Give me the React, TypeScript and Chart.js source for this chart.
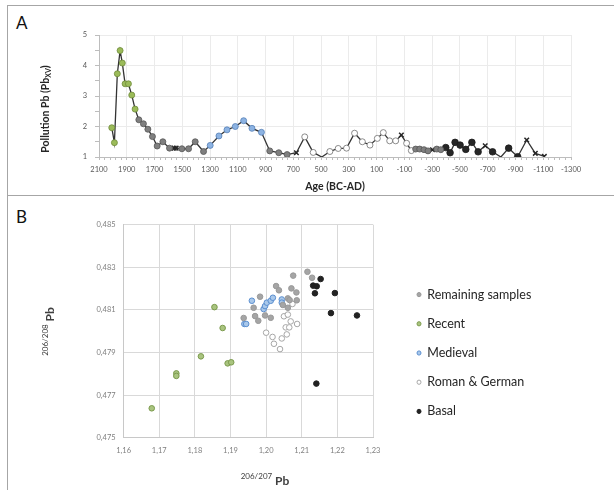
import React, { useEffect, useRef } from 'react';
import { Chart, registerables } from 'chart.js';

Chart.register(...registerables);

// ---------- Panel A: pollution Pb vs age ----------
const ageYears = [2008, 1989, 1968, 1948, 1932, 1912, 1888, 1864, 1840, 1813, 1780, 1748, 1715, 1681, 1640, 1592, 1558, 1544, 1503, 1455, 1407, 1347, 1299, 1236, 1178, 1118, 1058, 998, 930, 870, 805, 745, 678, 618, 557, 495, 437, 377, 317, 259, 203, 148, 95, 52, 6, -37, -78, -116, -150, -181, -210, -241, -270, -302, -333, -362, -398, -429, -465, -501, -542, -586, -631, -682, -735, -795, -851, -916, -981, -1043, -1108];
const pollutionPb = [1.96, 1.47, 3.73, 4.49, 4.08, 3.40, 3.40, 3.03, 2.57, 2.22, 2.09, 1.91, 1.67, 1.36, 1.50, 1.29, 1.29, 1.29, 1.27, 1.27, 1.50, 1.18, 1.38, 1.69, 1.89, 2.00, 2.19, 1.94, 1.81, 1.20, 1.14, 1.08, 1.14, 1.66, 1.15, 1.00, 1.18, 1.28, 1.29, 1.78, 1.50, 1.39, 1.61, 1.80, 1.53, 1.53, 1.72, 1.45, 1.21, 1.26, 1.26, 1.24, 1.20, 1.24, 1.26, 1.24, 1.31, 1.14, 1.48, 1.39, 1.25, 1.48, 1.17, 1.37, 1.17, 1.00, 1.29, 1.01, 1.56, 1.12, 1.02];
// G recent, R remaining, M medieval, W roman & german, B basal, X cross, N no marker
const sampleGroup = [
  'G', 'G', 'G', 'G', 'G', 'G', 'G', 'G', 'G',
  'R', 'R', 'R', 'R', 'R', 'R', 'R',
  'X', 'X',
  'R', 'R', 'R', 'R',
  'M', 'M', 'M', 'M', 'M', 'M', 'M',
  'R', 'R', 'R',
  'X',
  'W', 'W', 'N',
  'W', 'W', 'W', 'W', 'W', 'W', 'W', 'W', 'W', 'W',
  'X',
  'W', 'W',
  'R', 'R', 'R', 'R',
  'X',
  'R', 'R',
  'B', 'B', 'B', 'B', 'B', 'B', 'B',
  'X', 'B', 'N', 'B', 'B',
  'X', 'X', 'X',
];
const xTickMajor = 200;

// ---------- Panel B: isotope ratios ----------
const seriesLabels = ['Remaining samples', 'Recent', 'Medieval', 'Roman & German', 'Basal'];
const remainingX = [1.1937, 1.1965, 1.1969, 1.1978, 1.1983, 1.1997, 1.2013, 1.2028, 1.2036, 1.2047, 1.2061, 1.2061, 1.2066, 1.2071, 1.2076, 1.2085, 1.2086, 1.2116, 1.2129];
const remainingY = [0.48062, 0.48110, 0.48071, 0.48049, 0.48162, 0.48074, 0.48063, 0.48212, 0.48192, 0.48123, 0.48154, 0.48110, 0.48146, 0.48201, 0.48261, 0.48182, 0.48145, 0.48279, 0.48251];
const recentX = [1.1679, 1.1748, 1.1748, 1.1817, 1.1855, 1.1878, 1.1892, 1.1902];
const recentY = [0.47638, 0.47802, 0.47790, 0.47882, 0.48113, 0.48015, 0.47849, 0.47854];
const medievalX = [1.1960, 1.1939, 1.1944, 1.1993, 1.1997, 1.2002, 1.2013, 1.2019, 1.2044, 1.2044];
const medievalY = [0.48143, 0.48034, 0.48034, 0.48104, 0.48118, 0.48134, 0.48143, 0.48157, 0.48149, 0.48134];
const romanX = [1.2000, 1.2018, 1.2022, 1.2039, 1.2044, 1.2050, 1.2058, 1.2061, 1.2055, 1.2065, 1.2069, 1.2074, 1.2087];
const romanY = [0.47993, 0.47973, 0.47941, 0.47916, 0.47966, 0.48070, 0.47985, 0.48078, 0.48018, 0.48018, 0.48046, 0.48128, 0.48034];
const basalX = [1.2132, 1.2142, 1.2137, 1.2153, 1.2182, 1.2193, 1.2255, 1.2141];
const basalY = [0.48214, 0.48211, 0.48178, 0.48245, 0.48085, 0.48179, 0.48074, 0.47754];

const FONT = 'Lato';

type Part = [string, string, number];
function drawParts(ctx: CanvasRenderingContext2D, cx: number, cy: number, rot: number, parts: Part[], color: string) {
  ctx.save();
  ctx.translate(cx, cy);
  ctx.rotate(rot);
  ctx.fillStyle = color;
  ctx.textBaseline = 'middle';
  ctx.textAlign = 'left';
  let total = 0;
  parts.forEach(([t, f]) => { ctx.font = f; total += ctx.measureText(t).width; });
  let x = -total / 2;
  parts.forEach(([t, f, dy]) => { ctx.font = f; ctx.fillText(t, x, dy); x += ctx.measureText(t).width; });
  ctx.restore();
}

const titlesA = {
  id: 'titlesA',
  afterDraw(chart: any) {
    drawParts(chart.ctx, 38, 103, -Math.PI / 2, [
      ['Pollution Pb (Pb', `bold 10.5px ${FONT}`, 0],
      ['XV', `bold 7px ${FONT}`, 3],
      [')', `bold 10.5px ${FONT}`, 0],
    ], '#262626');
  },
};

const titlesB = {
  id: 'titlesB',
  afterDraw(chart: any) {
    drawParts(chart.ctx, 257, 285, 0, [
      ['206/207', `8px ${FONT}`, -5],
      [' Pb', `bold 12px ${FONT}`, 0],
    ], '#404040');
    drawParts(chart.ctx, 42, 135.5, -Math.PI / 2, [
      ['206/208', `8px ${FONT}`, -5],
      [' Pb', `bold 12px ${FONT}`, 0],
    ], '#404040');
  },
};

// move the legend a little away from the plot and let it use the rest of the canvas width
const legendShift = {
  id: 'legendShift',
  afterLayout(chart: any) {
    const lg = chart.legend;
    if (lg) {
      lg.left = chart.chartArea.right + 27.3;
      lg.right = chart.width;
      lg.width = lg.right - lg.left;
    }
  },
};

const zip = (xs: number[], ys: number[]) => xs.map((x, i) => ({ x, y: ys[i] }));

export default function App() {
  const refA = useRef<HTMLCanvasElement | null>(null);
  const refB = useRef<HTMLCanvasElement | null>(null);

  useEffect(() => {
    if (!refA.current || !refB.current) return;

    const all = ageYears.map((x, i) => ({ x, y: pollutionPb[i], g: sampleGroup[i] }));
    const pts = (g: string) => all.filter((p) => p.g === g).map(({ x, y }) => ({ x, y }));
    const mk = (g: string, bg: string, bc: string, r = 3, style = 'circle', bw = 0.8) => ({
      data: pts(g), backgroundColor: bg, borderColor: bc, pointRadius: r, pointBorderWidth: bw,
      borderWidth: bw, pointStyle: style, showLine: false, order: 0,
    });

    const chartA = new Chart(refA.current, {
      type: 'scatter',
      data: {
        datasets: [
          mk('G', '#9bbb59', '#6f8a3a'),
          mk('R', '#7f7f7f', '#555555'),
          mk('M', '#8db3e2', '#5580b8'),
          mk('W', '#ffffff', '#6e6e6e'),
          mk('B', '#262626', '#1a1a1a', 3.3),
          mk('X', '#262626', '#262626', 3.2, 'crossRot', 1.5),
          {
            data: all.map(({ x, y }) => ({ x, y })), showLine: true, pointRadius: 0,
            borderColor: '#333333', borderWidth: 1.3, tension: 0, order: 10,
          },
        ] as any,
      },
      options: {
        responsive: false,
        animation: false,
        events: [],
        layout: { padding: { top: 29, right: 43, left: 0, bottom: 0 } },
        plugins: { legend: { display: false }, tooltip: { enabled: false } },
        scales: {
          x: {
            type: 'linear', reverse: true, min: -1300, max: 2100,
            afterFit: (s: any) => { s.height = 38; },
            ticks: {
              stepSize: 40, autoSkip: false, maxRotation: 0, padding: 5, color: '#595959',
              font: { family: FONT, size: 7.5 },
              callback: (v: any) => ((Number(v) + 1300) % xTickMajor === 0 ? String(v) : ''),
            },
            grid: {
              color: (c: any) => (((c.tick?.value ?? 0) + 1300) % xTickMajor === 0 ? '#ebebeb' : 'rgba(0,0,0,0)'),
              tickColor: '#bdbdbd', tickLength: 3, drawTicks: true,
            },
            border: { color: '#bdbdbd' },
            title: {
              display: true, text: 'Age (BC-AD)', color: '#262626',
              font: { family: FONT, size: 10.5, weight: 'bold', lineHeight: 1.2 },
              padding: { top: 0, bottom: 2 },
            },
          },
          y: {
            min: 1, max: 5,
            afterFit: (s: any) => { s.width = 91; },
            ticks: {
              stepSize: 0.5, autoSkip: false, padding: 8, color: '#595959',
              font: { family: FONT, size: 7.5 },
              callback: (v: any) => (Number.isInteger(Number(v)) ? String(v) : ''),
            },
            grid: {
              color: (c: any) => (Number.isInteger(c.tick?.value) ? '#ebebeb' : 'rgba(0,0,0,0)'),
              tickColor: '#bdbdbd', tickLength: 4,
            },
            border: { color: '#bdbdbd' },
          },
        },
      } as any,
      plugins: [titlesA],
    });

    const sc = (label: string, xs: number[], ys: number[], bg: string, bc: string) => ({
      label, data: zip(xs, ys), backgroundColor: bg, borderColor: bc, pointRadius: 2.8,
      pointBorderWidth: 1, borderWidth: 1, pointStyle: 'circle',
    });

    const chartB = new Chart(refB.current, {
      type: 'scatter',
      data: {
        datasets: [
          sc(seriesLabels[0], remainingX, remainingY, '#a5a5a5', '#999999'),
          sc(seriesLabels[1], recentX, recentY, '#a9c47f', '#7b9a4d'),
          sc(seriesLabels[2], medievalX, medievalY, '#a9c8ea', '#5b8fd0'),
          sc(seriesLabels[3], romanX, romanY, '#ffffff', '#a6a6a6'),
          sc(seriesLabels[4], basalX, basalY, '#222222', '#222222'),
        ] as any,
      },
      options: {
        responsive: false,
        animation: false,
        events: [],
        layout: { padding: { top: 28.7, right: 121, bottom: 8.7, left: 0 } },
        plugins: {
          tooltip: { enabled: false },
          legend: {
            position: 'right', maxWidth: 120,
            labels: {
              usePointStyle: true, pointStyleWidth: 4, boxHeight: 3, padding: 16.7,
              color: '#262626', font: { family: FONT, size: 12.5 },
            },
          },
        },
        scales: {
          x: {
            min: 1.16, max: 1.23,
            afterFit: (s: any) => { s.height = 43.6; },
            ticks: {
              stepSize: 0.01, padding: 8, color: '#7f7f7f', maxRotation: 0,
              font: { family: FONT, size: 7.5 },
              callback: (v: any) => Number(v).toFixed(2).replace('.', ','),
            },
            grid: { color: '#d9d9d9', drawTicks: false },
            border: { color: '#c8c8c8' },
          },
          y: {
            min: 0.475, max: 0.485,
            afterFit: (s: any) => { s.width = 115.6; },
            ticks: {
              stepSize: 0.002, padding: 8, color: '#7f7f7f',
              font: { family: FONT, size: 7.5 },
              callback: (v: any) => Number(v).toFixed(3).replace('.', ','),
            },
            grid: { color: '#d9d9d9', drawTicks: false },
            border: { color: '#c8c8c8' },
          },
        },
      } as any,
      plugins: [legendShift, titlesB],
    });

    return () => {
      chartA.destroy();
      chartB.destroy();
    };
  }, []);

  const line = (l: number, t: number, w: number, h: number) => (
    <div style={{ position: 'absolute', left: l, top: t, width: w, height: h, background: '#a6a6a6' }} />
  );

  return (
    <div style={{ position: 'fixed', left: 0, top: 0, width: 614, height: 490, background: '#ffffff', overflow: 'hidden', fontFamily: FONT }}>
      {line(7, 5, 1, 485)}
      {line(7, 5, 607, 1)}
      {line(7, 195, 607, 1)}
      <div style={{ position: 'absolute', left: 16, top: 14, fontSize: 17, lineHeight: '17px', color: '#111' }}>A</div>
      <div style={{ position: 'absolute', left: 16, top: 208, fontSize: 17, lineHeight: '17px', color: '#111' }}>B</div>
      <canvas ref={refA} width={606} height={189} style={{ position: 'absolute', left: 8, top: 6 }} />
      <canvas ref={refB} width={606} height={294} style={{ position: 'absolute', left: 8, top: 196 }} />
    </div>
  );
}
